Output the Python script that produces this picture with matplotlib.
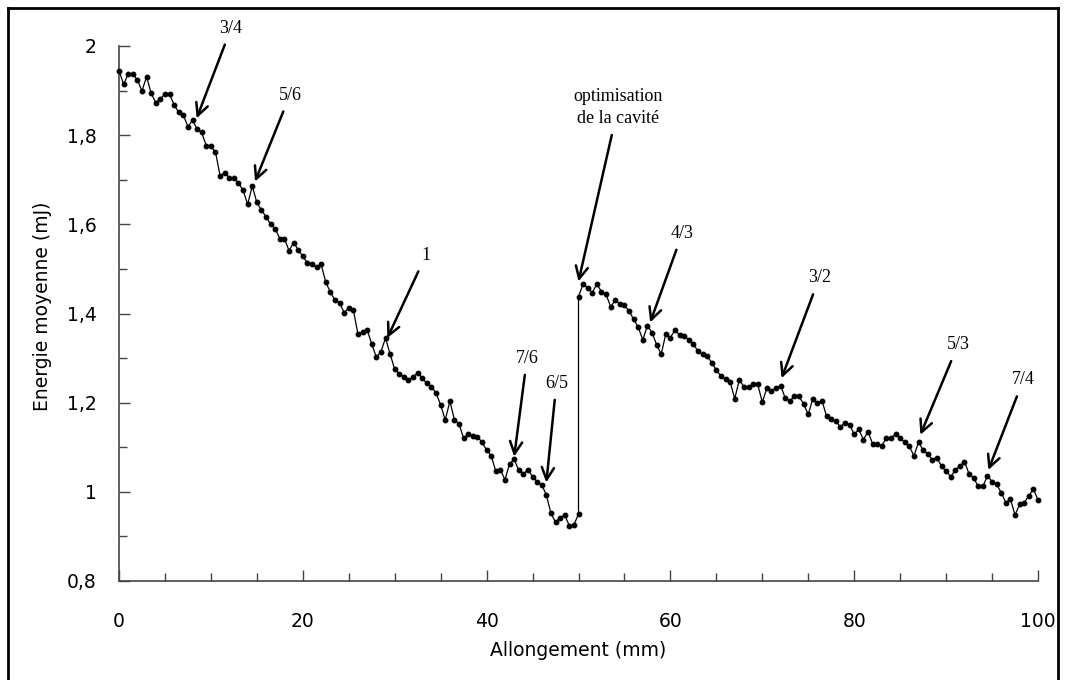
import matplotlib

matplotlib.use("Agg")
import matplotlib.pyplot as plt
import numpy as np
from matplotlib.lines import Line2D
from matplotlib.ticker import MultipleLocator

# energy readings, one every 0.5 mm; the run restarts at 50 mm after the cavity tune-up
STEP = 0.5
energy_before = [
    1.945, 1.914, 1.937, 1.937, 1.924, 1.899, 1.931, 1.894, 1.873, 1.882,
    1.892, 1.892, 1.868, 1.851, 1.845, 1.819, 1.833, 1.814, 1.806, 1.776,
    1.775, 1.762, 1.709, 1.716, 1.705, 1.704, 1.693, 1.676, 1.645, 1.686,
    1.649, 1.632, 1.617, 1.600, 1.590, 1.568, 1.568, 1.541, 1.559, 1.543,
    1.528, 1.514, 1.510, 1.505, 1.510, 1.470, 1.448, 1.430, 1.424, 1.402,
    1.413, 1.408, 1.354, 1.359, 1.363, 1.332, 1.302, 1.314, 1.345, 1.309,
    1.275, 1.265, 1.258, 1.250, 1.258, 1.267, 1.255, 1.243, 1.235, 1.222,
    1.195, 1.161, 1.203, 1.162, 1.152, 1.120, 1.130, 1.125, 1.124, 1.111,
    1.094, 1.081, 1.046, 1.050, 1.027, 1.063, 1.073, 1.048, 1.040, 1.050,
    1.034, 1.023, 1.016, 0.993, 0.952, 0.932, 0.942, 0.948, 0.924, 0.926,
    0.950,
]
energy_after = [
    1.438, 1.466, 1.457, 1.447, 1.466, 1.449, 1.443, 1.415, 1.430, 1.421,
    1.418, 1.406, 1.387, 1.369, 1.341, 1.373, 1.357, 1.330, 1.309, 1.354,
    1.346, 1.363, 1.351, 1.350, 1.341, 1.332, 1.315, 1.309, 1.304, 1.290,
    1.273, 1.260, 1.253, 1.246, 1.209, 1.251, 1.236, 1.236, 1.241, 1.241,
    1.201, 1.233, 1.227, 1.233, 1.238, 1.210, 1.204, 1.214, 1.214, 1.197,
    1.174, 1.209, 1.199, 1.204, 1.169, 1.163, 1.158, 1.146, 1.155, 1.151,
    1.129, 1.140, 1.117, 1.135, 1.108, 1.108, 1.103, 1.121, 1.121, 1.129,
    1.120, 1.111, 1.102, 1.081, 1.111, 1.094, 1.085, 1.072, 1.076, 1.058,
    1.046, 1.034, 1.049, 1.058, 1.068, 1.040, 1.031, 1.012, 1.012, 1.036,
    1.023, 1.017, 0.998, 0.976, 0.984, 0.948, 0.972, 0.976, 0.991, 1.006,
    0.982,
]

# annotations: label, point the arrow hits, where the label sits
labels = ["3/4", "5/6", "1", "7/6", "6/5", "optimisation\nde la cavité",
          "4/3", "3/2", "5/3", "7/4"]
arrow_heads = [(8.45, 1.838), (14.8, 1.696), (29.2, 1.345), (43.0, 1.079),
               (46.5, 1.021), (50.0, 1.472), (57.8, 1.380), (72.1, 1.255),
               (87.2, 1.128), (94.6, 1.049)]
label_pos = [(12.2, 2.04), (18.6, 1.89), (33.4, 1.531), (44.4, 1.300),
             (47.6, 1.244), (54.3, 1.862), (61.3, 1.58), (76.2, 1.48),
             (91.3, 1.33), (98.4, 1.251)]

y_ticks = [0.8, 1.0, 1.2, 1.4, 1.6, 1.8, 2.0]
y_tick_labels = ["0,8", "1", "1,2", "1,4", "1,6", "1,8", "2"]
x_ticks = [0, 20, 40, 60, 80, 100]

x_before = np.arange(len(energy_before)) * STEP
x_after = x_before[-1] + np.arange(len(energy_after)) * STEP
x_all = np.concatenate([x_before, x_after])
e_all = np.concatenate([energy_before, energy_after])

W, H = 1066, 680
fig = plt.figure(figsize=(W / 100, H / 100), dpi=100)
ax = fig.add_axes([119 / W, 1 - 581 / H, (1038 - 119) / W, (581 - 46) / H])

ax.plot(x_all, e_all, color="black", lw=0.9, marker="o", ms=3.2,
        clip_on=False, zorder=3)

ax.set_xlim(0, 100)
ax.set_ylim(0.8, 2.0)
ax.set_xticks(x_ticks)
ax.set_yticks(y_ticks)
ax.set_yticklabels(y_tick_labels)
ax.xaxis.set_minor_locator(MultipleLocator(5))
ax.yaxis.set_minor_locator(MultipleLocator(0.1))
ax.tick_params(which="both", direction="in", color="#444444", width=1)
ax.tick_params(which="major", length=8)
ax.tick_params(which="minor", length=6)
ax.tick_params(axis="x", labelsize=13.5, pad=22)
ax.tick_params(axis="y", labelsize=13.5, pad=16)
for side in ("top", "right"):
    ax.spines[side].set_visible(False)
for side in ("left", "bottom"):
    ax.spines[side].set_color("#444444")
    ax.spines[side].set_linewidth(1.2)

fig.text(578 / W, 1 - 650 / H, "Allongement (mm)", ha="center", va="center",
         fontsize=13.5)
fig.text(43 / W, 1 - 306 / H, "Energie moyenne (mJ)", ha="center",
         va="center", rotation=90, fontsize=13.5)

for text, head, pos in zip(labels, arrow_heads, label_pos):
    ax.annotate(text, xy=head, xytext=pos, ha="center", va="center",
                family="Liberation Serif", fontsize=13, linespacing=1.35,
                annotation_clip=False,
                arrowprops=dict(arrowstyle="->", lw=1.8, color="black",
                                mutation_scale=22, shrinkA=4, shrinkB=0))

# outer frame of the original figure (bottom edge lies off the picture)
frame = dict(color="black", lw=2, transform=fig.transFigure)
fig.add_artist(Line2D([8 / W, 8 / W], [0, 1 - 8 / H], **frame))
fig.add_artist(Line2D([8 / W, 1058 / W], [1 - 8 / H, 1 - 8 / H], **frame))
fig.add_artist(Line2D([1058 / W, 1058 / W], [0, 1 - 8 / H], **frame))

fig.savefig("out.png", dpi=100)
